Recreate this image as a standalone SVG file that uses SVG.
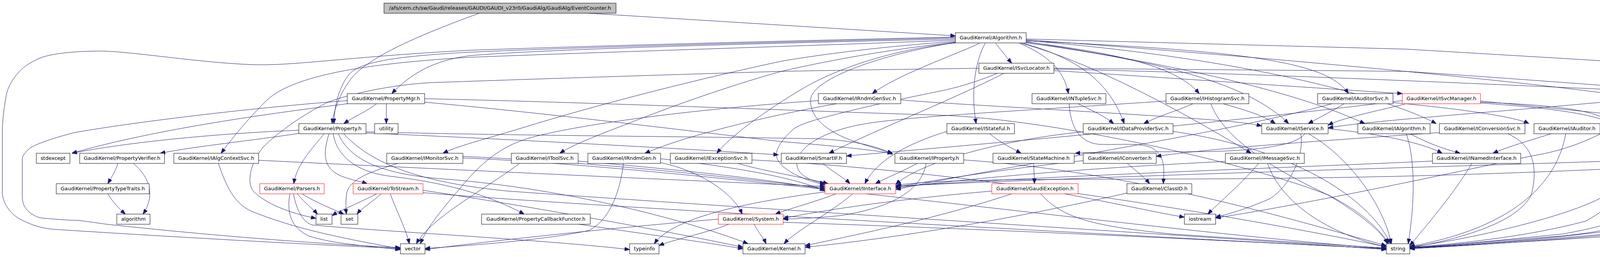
<svg xmlns="http://www.w3.org/2000/svg" width="4803" height="659" viewBox="0 0 4803 659">
<defs>
<marker id="a" markerUnits="userSpaceOnUse" markerWidth="13" markerHeight="10" refX="13" refY="5" orient="auto"><path d="M0,0 L13,5 L0,10 z" fill="#191970" stroke="#191970" stroke-width="1"/></marker>
<style>
.n rect{fill:#ffffff;stroke:#000000;stroke-width:1}
.n.r rect{stroke:#ff0000}
.n.t rect{fill:#bfbfbf}
.n text{font-family:"DejaVu Sans",sans-serif;font-size:13px;text-anchor:middle;fill:#000000}
#edges path{fill:none;stroke:#191970;stroke-width:1;marker-end:url(#a)}
</style>
</defs>
<rect x="0" y="0" width="4803" height="659" fill="#ffffff"/>
<g id="edges">
<path d="M1506,34 C1900,58 2200,77 2446,92"/>
<path d="M1227,34 C1100,80 950,140 900,200 C870,240 855,280 850,317"/>
<path d="M2549,111 C2560,125 2575,145 2590,162"/>
<path d="M2446,100 C2000,110 1400,125 1200,143 C1110,155 1050,190 1003,240"/>
<path d="M2446,97 C2000,108 1500,120 1200,134 C1000,145 915,160 890,195 C865,230 855,280 855,317"/>
<path d="M2446,103 C2000,120 1500,135 1200,147 C900,165 740,200 680,260 C630,310 590,360 566,393"/>
<path d="M2446,95 C2000,105 1500,118 1200,129 C900,145 760,168 658,166 C520,163 330,130 253,131 C200,131 140,136 107,147 C80,158 62,170 50,183 C30,205 20,225 16,244 C10,280 6,310 6,336 L6,492 C6,520 25,545 46,559 C80,578 110,586 138,588 C400,605 800,628 1025,637"/>
<path d="M2446,106 C2250,120 2100,140 2000,157 C1800,200 1550,262 1330,330 C1230,360 1170,375 1134,393"/>
<path d="M2446,108 C2250,130 2100,160 2000,183 C1850,225 1700,280 1600,320 C1520,350 1460,375 1433,393"/>
<path d="M2446,110 C2300,125 2150,170 2050,230 C1950,290 1870,350 1835,393"/>
<path d="M2507,111 C2460,135 2300,190 2233,240"/>
<path d="M2522,111 C2495,160 2485,240 2499,317"/>
<path d="M2610,111 C2680,140 2725,180 2735,240"/>
<path d="M2620,111 C2760,150 2840,210 2878,317"/>
<path d="M2614,111 C2800,160 3050,300 3203,393"/>
<path d="M2627,108 C2900,140 3020,180 3070,240"/>
<path d="M2627,110 C3000,160 3200,220 3299,317"/>
<path d="M2627,107 C3100,180 3350,250 3494,317"/>
<path d="M2627,105 C3200,130 3400,160 3452,240"/>
<path d="M2627,104 C3200,150 3550,250 3677,317"/>
<path d="M2627,102 C3300,150 3900,210 4124,241"/>
<path d="M2446,109 C2250,140 2090,200 2076,250 C2070,290 2100,330 2180,360 C2230,378 2260,385 2285,393"/>
<path d="M2627,100 C3000,110 3300,118 3600,126 C4000,150 4400,172 4603,193 C4700,205 4760,225 4794,252 L4794,504 C4794,530 4775,540 4756,546 C4700,560 4650,565 4633,567 C4550,580 4000,615 3609,637"/>
<path d="M2698,181 C3000,200 3400,228 3590,240"/>
<path d="M2698,177 C3300,190 4000,225 4365,240 C4420,260 4450,290 4465,317"/>
<path d="M2698,175 C3000,178 3300,180 3600,183 C4000,210 4300,235 4442,242 C4550,240 4620,228 4671,235 C4700,240 4730,265 4744,294 L4744,492 C4744,505 4720,515 4694,521 C4650,535 4620,540 4595,546 C4550,555 4500,563 4480,567 C4200,600 3800,628 3609,638"/>
<path d="M2506,175 C2300,178 2150,180 2000,183 C1600,195 1300,205 1100,212 C1000,218 900,240 842,261 C800,280 720,330 673,378 C640,420 630,470 650,492 C690,530 760,550 809,560"/>
<path d="M2570,188 C2450,250 2250,330 2122,393"/>
<path d="M2553,188 C2500,210 2450,225 2400,235 C2250,265 2150,290 2103,303 C2060,315 2035,325 2026,336 C2000,360 1985,385 1988,399 C1990,430 2050,460 2112,474"/>
<path d="M964,266 C940,285 905,300 880,317"/>
<path d="M989,266 L989,317"/>
<path d="M889,266 C700,290 400,330 184,393"/>
<path d="M889,258 C600,280 300,320 191,340 C150,350 85,370 73,383 C62,394 57,400 57,410 L57,504 C57,520 63,532 69,538 C82,552 98,558 107,559 C150,563 180,565 199,565 C240,570 270,575 283,576 C500,600 800,625 1025,635"/>
<path d="M1087,262 C1400,290 1800,340 2000,363 C2150,375 2230,385 2285,393"/>
<path d="M1087,253 C1600,265 2200,290 2400,295 C2700,305 3200,420 3400,500 C3500,560 3540,600 3552,625"/>
<path d="M765,334 C600,340 350,360 184,393"/>
<path d="M765,342 C650,360 500,375 410,393"/>
<path d="M830,343 C800,380 760,420 752,471"/>
<path d="M842,343 C825,400 830,430 870,450 C900,462 925,466 940,471"/>
<path d="M853,343 C860,390 900,440 1000,452 C1150,470 1250,500 1342,549"/>
<path d="M937,341 C1200,352 1700,378 1993,397"/>
<path d="M937,338 C1300,348 1800,350 2100,356 C2200,362 2255,378 2285,396"/>
<path d="M866,343 C900,420 1000,450 1150,460 C1500,490 1800,580 1915,625"/>
<path d="M880,343 C960,430 1100,470 1300,490 C2000,540 3000,600 3549,640"/>
<path d="M302,419 C295,440 285,455 276,471"/>
<path d="M341,419 C380,450 400,500 366,549"/>
<path d="M276,497 C290,520 305,535 321,549"/>
<path d="M559,419 C580,480 600,520 640,540 C760,590 900,615 1025,638"/>
<path d="M662,411 C1200,437 1800,465 2112,478"/>
<path d="M1018,419 C950,440 890,460 887,500 C885,520 885,535 887,549"/>
<path d="M1185,401 C1600,420 1900,460 2112,482"/>
<path d="M1185,405 C1800,430 3000,600 3549,637"/>
<path d="M1480,413 C1800,440 2000,465 2112,486"/>
<path d="M1330,419 C1250,480 1100,560 1066,625"/>
<path d="M2095,258 C1800,278 1500,315 1358,353 C1280,375 1230,420 1180,480 C1120,550 1090,590 1076,625"/>
<path d="M1691,407 C1900,430 2050,460 2112,490"/>
<path d="M1596,419 C1590,470 1570,560 1507,591 C1400,615 1200,630 1088,637"/>
<path d="M1691,417 C1800,440 1880,500 1900,549"/>
<path d="M1889,419 C1960,440 2060,455 2120,471"/>
<path d="M1925,410 C2500,440 3200,560 3549,633"/>
<path d="M2107,419 C2130,440 2160,455 2176,471"/>
<path d="M2348,419 C2310,440 2270,455 2241,471"/>
<path d="M2467,410 C2900,440 3300,560 3549,630"/>
<path d="M2371,419 C2360,480 2300,530 2150,553 C2080,560 2030,561 2005,562"/>
<path d="M2140,497 C2080,520 2020,535 1985,549"/>
<path d="M2183,497 C2120,550 2040,590 2007,625"/>
<path d="M2112,492 C1900,520 1720,560 1675,625"/>
<path d="M1931,575 C1940,595 1955,610 1961,625"/>
<path d="M1866,575 C1800,600 1720,615 1687,630"/>
<path d="M2005,570 C2600,590 3200,620 3549,638"/>
<path d="M1839,562 C1500,590 1200,625 1088,640"/>
<path d="M2646,419 C2647,440 2648,455 2648,471"/>
<path d="M2534,343 C2560,365 2590,380 2614,393"/>
<path d="M2424,337 C2350,360 2250,400 2214,471"/>
<path d="M2886,419 C2910,440 2930,455 2943,471"/>
<path d="M2773,412 C2600,430 2400,460 2293,480"/>
<path d="M2885,495 C2600,560 2300,610 2061,634"/>
<path d="M2760,266 C2800,285 2830,300 2851,317"/>
<path d="M2737,266 C2740,320 2760,365 2813,370 C2870,372 2920,365 2950,380 C2985,400 2980,440 2978,471"/>
<path d="M2773,338 C2550,360 2350,420 2293,473"/>
<path d="M3003,337 C3300,380 3500,500 3560,625"/>
<path d="M3054,266 C3010,285 2960,300 2928,317"/>
<path d="M3131,266 C3200,285 3240,300 3265,317"/>
<path d="M3100,266 C3130,350 3250,430 3400,500 C3500,550 3540,600 3555,625"/>
<path d="M2985,259 C2600,285 2300,300 2200,320 C2100,340 2040,380 2040,420 C2040,450 2080,466 2112,470"/>
<path d="M3400,330 C3550,345 3650,370 3692,393"/>
<path d="M3350,343 C3450,400 3540,520 3562,625"/>
<path d="M3340,343 C3320,375 3200,389 3050,389 C2900,389 2800,390 2752,393"/>
<path d="M3330,343 C3340,400 3300,480 3250,510 C3180,540 3140,550 3112,557"/>
<path d="M3610,343 C3650,365 3690,380 3738,393"/>
<path d="M3600,343 C3620,400 3625,500 3605,625"/>
<path d="M3685,340 C3400,360 3100,380 2960,401"/>
<path d="M3860,343 C3920,370 3940,420 3920,500 C3880,580 3700,620 3609,635"/>
<path d="M3971,343 C3900,365 3850,380 3822,393"/>
<path d="M4008,343 C3990,450 3900,580 3609,632"/>
<path d="M3441,266 C3410,285 3380,300 3349,317"/>
<path d="M3566,263 C3750,280 3880,300 3914,317"/>
<path d="M3410,266 C3100,350 2600,420 2293,486"/>
<path d="M3600,266 C3500,290 3430,305 3400,321"/>
<path d="M3790,259 C4100,290 4300,310 4371,323"/>
<path d="M3790,262 C4000,270 4100,285 4130,320 L4132,480 C4110,530 3800,610 3609,633"/>
<path d="M3790,264 C4000,280 4120,295 4160,340 C4180,380 4172,430 4166,462 C4150,510 4100,545 4059,567 C3900,610 3700,628 3609,634"/>
<path d="M3590,258 C3000,330 2500,370 2167,400"/>
<path d="M4239,266 C4260,300 4285,350 4293,393"/>
<path d="M4250,266 C4330,320 4420,370 4465,393"/>
<path d="M4124,260 C3800,290 3500,310 3400,328"/>
<path d="M4342,262 C4500,300 4620,340 4671,370 C4700,420 4700,480 4690,510 C4600,570 3900,620 3609,636"/>
<path d="M4216,266 C4150,320 4050,380 3920,400 C3600,470 3300,530 3112,559"/>
<path d="M4541,343 C4620,380 4630,420 4600,470 C4520,560 4000,615 3609,636"/>
<path d="M4300,419 C4280,500 4230,560 4000,600 C3800,620 3700,630 3609,635"/>
<path d="M4220,410 C3600,431 3000,445 2293,477"/>
<path d="M4510,419 C4400,500 4250,580 4000,605 C3800,620 3700,630 3609,636"/>
<path d="M4415,419 C4000,440 3600,458 3000,459 C2600,460 2400,460 2294,475"/>
<path d="M3667,413 C3300,430 2700,450 2293,478"/>
<path d="M3768,419 C3720,500 3650,580 3609,630"/>
<path d="M3222,419 C3180,470 3120,520 3092,549"/>
<path d="M3245,419 C3280,520 3400,600 3549,633"/>
<path d="M3137,414 C2800,430 2500,455 2293,482"/>
<path d="M2725,497 C2850,520 2960,545 3032,557"/>
<path d="M2664,497 C2720,560 2800,580 3000,600 C3300,620 3450,630 3549,636"/>
<path d="M2539,490 C2300,510 2100,540 2005,560"/>
<path d="M2590,497 C2400,560 2200,600 2061,630"/>
<path d="M761,497 C780,520 800,535 813,549"/>
<path d="M773,497 C810,520 850,535 880,549"/>
<path d="M742,497 C735,540 740,580 790,605 C850,625 950,632 1025,640"/>
<path d="M751,497 C760,540 775,570 800,577 C1000,595 1400,615 1612,640"/>
<path d="M964,497 C920,520 870,540 850,553"/>
<path d="M976,497 C950,520 925,535 914,549"/>
<path d="M999,497 C1015,540 1040,590 1048,625"/>
<path d="M1083,488 C1300,520 1700,590 1902,634"/>
<path d="M1083,494 C1500,530 3000,610 3549,638"/>
<path d="M1482,575 C1650,600 1800,620 1902,638"/>
<path d="M2306,256 C2400,265 2700,280 3000,300 C3150,310 3200,316 3230,323"/>
<path d="M2141,266 C1950,300 1750,350 1651,393"/>
</g>
<g id="nodes">
<g id="n_eventcounter" class="n t"><rect x="983" y="8" width="594" height="26"/><text x="1280" y="25">/afs/cern.ch/sw/Gaudi/releases/GAUDI/GAUDI_v23r0/GaudiAlg/GaudiAlg/EventCounter.h</text></g>
<g id="n_algorithm" class="n"><rect x="2446" y="84" width="181" height="26"/><text x="2536.5" y="101">GaudiKernel/Algorithm.h</text></g>
<g id="n_isvclocator" class="n"><rect x="2506" y="162" width="192" height="26"/><text x="2602" y="179">GaudiKernel/ISvcLocator.h</text></g>
<g id="n_propertymgr" class="n"><rect x="889" y="240" width="198" height="26"/><text x="988" y="257">GaudiKernel/PropertyMgr.h</text></g>
<g id="n_irndmgensvc" class="n"><rect x="2095" y="240" width="211" height="26"/><text x="2200.5" y="257">GaudiKernel/IRndmGenSvc.h</text></g>
<g id="n_intuplesvc" class="n"><rect x="2642" y="240" width="189" height="26"/><text x="2736.5" y="257">GaudiKernel/INTupleSvc.h</text></g>
<g id="n_ihistogramsvc" class="n"><rect x="2985" y="240" width="212" height="26"/><text x="3091" y="257">GaudiKernel/IHistogramSvc.h</text></g>
<g id="n_iauditorsvc" class="n"><rect x="3373" y="240" width="193" height="26"/><text x="3469.5" y="257">GaudiKernel/IAuditorSvc.h</text></g>
<g id="n_isvcmanager" class="n r"><rect x="3590" y="240" width="200" height="26"/><text x="3690" y="257">GaudiKernel/ISvcManager.h</text></g>
<g id="n_ichronostatsvc" class="n"><rect x="4124" y="240" width="218" height="26"/><text x="4233" y="257">GaudiKernel/IChronoStatSvc.h</text></g>
<g id="n_property" class="n"><rect x="765" y="317" width="172" height="26"/><text x="851" y="334">GaudiKernel/Property.h</text></g>
<g id="n_utility" class="n"><rect x="959" y="317" width="60" height="26"/><text x="989" y="334">utility</text></g>
<g id="n_istateful" class="n"><rect x="2424" y="317" width="173" height="26"/><text x="2510.5" y="334">GaudiKernel/IStateful.h</text></g>
<g id="n_idataprovidersvc" class="n"><rect x="2773" y="317" width="230" height="26"/><text x="2888" y="334">GaudiKernel/IDataProviderSvc.h</text></g>
<g id="n_iservice" class="n"><rect x="3230" y="317" width="170" height="26"/><text x="3315" y="334">GaudiKernel/IService.h</text></g>
<g id="n_ialgorithm" class="n"><rect x="3476" y="317" width="185" height="26"/><text x="3568.5" y="334">GaudiKernel/IAlgorithm.h</text></g>
<g id="n_iconversionsvc" class="n"><rect x="3685" y="317" width="219" height="26"/><text x="3794.5" y="334">GaudiKernel/IConversionSvc.h</text></g>
<g id="n_iauditor" class="n"><rect x="3927" y="317" width="169" height="26"/><text x="4011.5" y="334">GaudiKernel/IAuditor.h</text></g>
<g id="n_typenamestring" class="n"><rect x="4371" y="317" width="227" height="26"/><text x="4484.5" y="334">GaudiKernel/TypeNameString.h</text></g>
<g id="n_stdexcept" class="n"><rect x="93" y="393" width="86" height="26"/><text x="136" y="410">stdexcept</text></g>
<g id="n_propertyverifier" class="n"><rect x="204" y="393" width="217" height="26"/><text x="312.5" y="410">GaudiKernel/PropertyVerifier.h</text></g>
<g id="n_ialgcontextsvc" class="n"><rect x="445" y="393" width="217" height="26"/><text x="553.5" y="410">GaudiKernel/IAlgContextSvc.h</text></g>
<g id="n_imonitorsvc" class="n"><rect x="990" y="393" width="195" height="26"/><text x="1087.5" y="410">GaudiKernel/IMonitorSvc.h</text></g>
<g id="n_itoolsvc" class="n"><rect x="1309" y="393" width="171" height="26"/><text x="1394.5" y="410">GaudiKernel/IToolSvc.h</text></g>
<g id="n_irndmgen" class="n"><rect x="1505" y="393" width="186" height="26"/><text x="1598" y="410">GaudiKernel/IRndmGen.h</text></g>
<g id="n_iexceptionsvc" class="n"><rect x="1716" y="393" width="209" height="26"/><text x="1820.5" y="410">GaudiKernel/IExceptionSvc.h</text></g>
<g id="n_smartif" class="n"><rect x="2000" y="393" width="167" height="26"/><text x="2083.5" y="410">GaudiKernel/SmartIF.h</text></g>
<g id="n_iproperty" class="n"><rect x="2291" y="393" width="176" height="26"/><text x="2379" y="410">GaudiKernel/IProperty.h</text></g>
<g id="n_statemachine" class="n"><rect x="2542" y="393" width="208" height="26"/><text x="2646" y="410">GaudiKernel/StateMachine.h</text></g>
<g id="n_iconverter" class="n"><rect x="2773" y="393" width="187" height="26"/><text x="2866.5" y="410">GaudiKernel/IConverter.h</text></g>
<g id="n_imessagesvc" class="n"><rect x="3137" y="393" width="202" height="26"/><text x="3238" y="410">GaudiKernel/IMessageSvc.h</text></g>
<g id="n_inamedinterface" class="n"><rect x="3667" y="393" width="226" height="26"/><text x="3780" y="410">GaudiKernel/INamedInterface.h</text></g>
<g id="n_istatsvc" class="n"><rect x="4220" y="393" width="171" height="26"/><text x="4305.5" y="410">GaudiKernel/IStatSvc.h</text></g>
<g id="n_ichronosvc" class="n"><rect x="4415" y="393" width="191" height="26"/><text x="4510.5" y="410">GaudiKernel/IChronoSvc.h</text></g>
<g id="n_propertytypetraits" class="n"><rect x="144" y="471" width="238" height="26"/><text x="263" y="488">GaudiKernel/PropertyTypeTraits.h</text></g>
<g id="n_parsers" class="n r"><rect x="665" y="471" width="165" height="26"/><text x="747.5" y="488">GaudiKernel/Parsers.h</text></g>
<g id="n_tostream" class="n r"><rect x="904" y="471" width="179" height="26"/><text x="993.5" y="488">GaudiKernel/ToStream.h</text></g>
<g id="n_iinterface" class="n r"><rect x="2112" y="471" width="181" height="26"/><text x="2202.5" y="488">GaudiKernel/IInterface.h</text></g>
<g id="n_gaudiexception" class="n r"><rect x="2539" y="471" width="221" height="26"/><text x="2649.5" y="488">GaudiKernel/GaudiException.h</text></g>
<g id="n_classid" class="n"><rect x="2885" y="471" width="166" height="26"/><text x="2968" y="488">GaudiKernel/ClassID.h</text></g>
<g id="n_algorithm_std" class="n"><rect x="299" y="549" width="85" height="26"/><text x="341.5" y="566">algorithm</text></g>
<g id="n_list" class="n"><rect x="809" y="549" width="41" height="26"/><text x="829.5" y="566">list</text></g>
<g id="n_set" class="n"><rect x="873" y="549" width="43" height="26"/><text x="894.5" y="566">set</text></g>
<g id="n_propertycallbackfunctor" class="n"><rect x="1233" y="549" width="278" height="26"/><text x="1372" y="566">GaudiKernel/PropertyCallbackFunctor.h</text></g>
<g id="n_system" class="n r"><rect x="1839" y="549" width="166" height="26"/><text x="1922" y="566">GaudiKernel/System.h</text></g>
<g id="n_iostream" class="n"><rect x="3032" y="549" width="80" height="26"/><text x="3072" y="566">iostream</text></g>
<g id="n_vector" class="n"><rect x="1025" y="625" width="63" height="26"/><text x="1056.5" y="642">vector</text></g>
<g id="n_typeinfo" class="n"><rect x="1612" y="625" width="75" height="26"/><text x="1649.5" y="642">typeinfo</text></g>
<g id="n_kernel" class="n"><rect x="1902" y="625" width="159" height="26"/><text x="1981.5" y="642">GaudiKernel/Kernel.h</text></g>
<g id="n_string" class="n"><rect x="3549" y="625" width="60" height="26"/><text x="3579" y="642">string</text></g>
</g>
</svg>
